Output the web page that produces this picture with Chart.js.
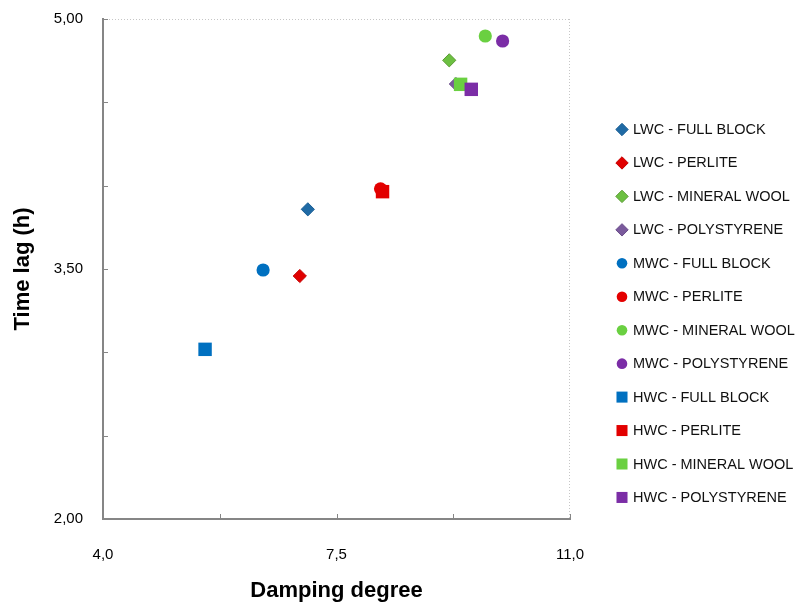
<!DOCTYPE html>
<html>
<head>
<meta charset="utf-8">
<script src="https://cdn.jsdelivr.net/npm/chart.js@4/dist/chart.umd.min.js"></script>
<style>
html,body{margin:0;padding:0;background:#fff;}
#wrap{width:810px;height:604px;position:relative;}
</style>
</head>
<body>
<div id="wrap"><canvas id="c" width="810" height="604"></canvas></div>
<script>
// ---- data ----
const seriesNames = [
  'LWC - FULL BLOCK', 'LWC - PERLITE', 'LWC - MINERAL WOOL', 'LWC - POLYSTYRENE',
  'MWC - FULL BLOCK', 'MWC - PERLITE', 'MWC - MINERAL WOOL', 'MWC - POLYSTYRENE',
  'HWC - FULL BLOCK', 'HWC - PERLITE', 'HWC - MINERAL WOOL', 'HWC - POLYSTYRENE'
];
const dampingDegree = [7.07, 6.95, 9.19, 9.29, 6.40, 8.16, 9.73, 9.99, 5.53, 8.19, 9.36, 9.52];
const timeLag      = [3.858, 3.458, 4.752, 4.610, 3.494, 3.981, 4.898, 4.868, 3.018, 3.964, 4.608, 4.578];
const xLabelValues = [4, 7.5, 11];
const yLabelValues = [2, 3.5, 5];
const xTitle = 'Damping degree';
const yTitle = 'Time lag (h)';

// ---- styles ----
const pointStyles = ['rectRot','rectRot','rectRot','rectRot','circle','circle','circle','circle','rect','rect','rect','rect'];
const fillColors = ['#1F6AA5','#E00000','#6CC041','#7A5A9C','#0070C0','#E40000','#6AD041','#7B2DA6','#0070C0','#E20000','#6AD041','#7B2DA6'];
const edgeColors = ['#1A5E94','#C40000','#5A9A33','#6A4C8A','#0070C0','#E40000','#6AD041','#7B2DA6','#0070C0','#E20000','#6AD041','#7B2DA6'];
const FONT = "'Liberation Sans', Arial, sans-serif";

function radiusFor(style){ return style === 'rect' ? 9.5 : 6.6; }
function fmt(v, d){ return v.toFixed(d).replace('.', ','); }
function isIn(list, v){ return list.some(l => Math.abs(l - v) < 1e-6); }

const datasets = seriesNames.map((name, i) => ({
  label: name,
  data: [{x: dampingDegree[i], y: timeLag[i]}],
  pointStyle: pointStyles[i],
  pointRadius: radiusFor(pointStyles[i]),
  pointHoverRadius: radiusFor(pointStyles[i]),
  backgroundColor: fillColors[i],
  borderColor: edgeColors[i],
  borderWidth: pointStyles[i] === 'rectRot' ? 1 : 0,
  showLine: false,
  order: seriesNames.length - i
}));

const AXIS = '#868686';

const framePlugin = {
  id: 'frame',
  beforeDatasetsDraw(chart){
    const {ctx, chartArea: a, scales} = chart;
    ctx.save();
    ctx.strokeStyle = '#c6c6c6';
    ctx.lineWidth = 1;
    ctx.setLineDash([1, 2]);
    ctx.beginPath();
    ctx.moveTo(a.left, a.top + 0.5); ctx.lineTo(a.right, a.top + 0.5);
    ctx.moveTo(a.right - 0.5, a.top); ctx.lineTo(a.right - 0.5, a.bottom);
    ctx.stroke();
    ctx.setLineDash([]);
    ctx.strokeStyle = AXIS;
    ctx.lineWidth = 1;
    ctx.beginPath();
    scales.x.ticks.forEach(t => {
      const px = Math.round(scales.x.getPixelForValue(t.value)) + 0.5;
      ctx.moveTo(px, a.bottom); ctx.lineTo(px, a.bottom - 5);
    });
    scales.y.ticks.forEach(t => {
      const py = Math.round(scales.y.getPixelForValue(t.value)) + 0.5;
      ctx.moveTo(a.left, py); ctx.lineTo(a.left + 5, py);
    });
    ctx.stroke();
    ctx.restore();
  },
  afterDraw(chart){
    const ctx = chart.ctx;
    const mx = 622, tx = 633, y0 = 129.5, step = 33.45;
    ctx.save();
    chart.data.datasets.forEach((ds, i) => {
      const y = y0 + i * step;
      const st = ds.pointStyle;
      const r = st === 'rect' ? 7.8 : (st === 'circle' ? 5.3 : 6.2);
      ctx.fillStyle = ds.backgroundColor;
      ctx.strokeStyle = ds.borderColor;
      ctx.lineWidth = ds.borderWidth;
      if (Chart.helpers && Chart.helpers.drawPoint) {
        Chart.helpers.drawPoint(ctx, {pointStyle: st, radius: r, rotation: 0, borderWidth: ds.borderWidth}, mx, y);
      }
      ctx.fillStyle = '#111';
      ctx.font = '14.5px ' + FONT;
      ctx.textAlign = 'left';
      ctx.textBaseline = 'middle';
      ctx.fillText(ds.label, tx, y + 0.5);
    });
    ctx.restore();
  }
};

new Chart(document.getElementById('c'), {
  type: 'scatter',
  data: { datasets },
  options: {
    responsive: false,
    animation: false,
    devicePixelRatio: 1,
    layout: { padding: { left: 0, right: 240, top: 19, bottom: 0 } },
    plugins: { legend: { display: false }, tooltip: { enabled: false } },
    scales: {
      x: {
        type: 'linear', min: 4, max: 11,
        grid: { display: false, drawTicks: false },
        border: { display: true, color: AXIS, width: 2 },
        ticks: {
          stepSize: 1.75, autoSkip: false, maxRotation: 0, padding: 27,
          color: '#000', font: { family: FONT, size: 15 },
          callback: v => isIn(xLabelValues, v) ? fmt(v, 1) : ''
        },
        title: { display: true, text: xTitle, color: '#000', padding: { top: 0, bottom: 0 },
                 font: { family: FONT, size: 22, weight: 'bold' } },
        afterFit(scale){ scale.height = 85; scale.paddingLeft = 0; scale.paddingRight = 0; }
      },
      y: {
        type: 'linear', min: 2, max: 5,
        grid: { display: false, drawTicks: false },
        border: { display: true, color: AXIS, width: 2 },
        ticks: {
          stepSize: 0.5, autoSkip: false, padding: 20,
          color: '#000', font: { family: FONT, size: 15 },
          callback: v => isIn(yLabelValues, v) ? fmt(v, 2) : ''
        },
        title: { display: true, text: yTitle, color: '#000', padding: { top: 10, bottom: 0 },
                 font: { family: FONT, size: 22, weight: 'bold' } },
        afterFit(scale){ scale.width = 103; scale.paddingTop = 0; scale.paddingBottom = 0; }
      }
    }
  },
  plugins: [framePlugin]
});
</script>
</body>
</html>
